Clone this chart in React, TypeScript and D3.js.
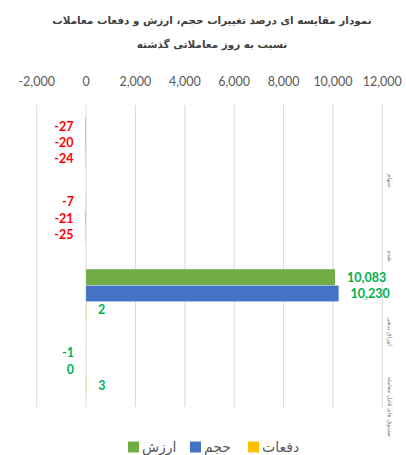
import React from "react";
import * as d3 from "d3";

const title1 = "نمودار مقایسه ای درصد تغییرات حجم، ارزش و دفعات معاملات";
const title2 = "نسبت به روز معاملاتی گذشته";
const categories = ["سهام", "تقدم", "اوراق بدهی", "صندوق های قابل معامله"];
const seriesNames = ["ارزش", "حجم", "دفعات"];
const arzesh = [-27, -7, 10083, -1];
const hajm = [-20, -21, 10230, 0];
const dafaat = [-24, -25, 2, 3];
const labelColorByCategory = ["#ff0000", "#ff0000", "#00b050", "#00b050"];
const xTicks = [-2000, 0, 2000, 4000, 6000, 8000, 10000, 12000];
const legendOrder = ["ارزش", "حجم", "دفعات"];

const seriesValues = [arzesh, hajm, dafaat];
const colors: Record<string, string> = { "ارزش": "#70ad47", "حجم": "#4472c4", "دفعات": "#ffc000" };

export default function App() {
  const W = 406, H = 455;
  const x = d3.scaleLinear().domain([-2000, 12000]).range([36.7, 382.3]);
  const yTop = 105, yBot = 407;
  const y = d3.scaleBand<string>().domain(categories).range([yTop, yBot]).paddingInner(0.35).paddingOuter(0.175);
  const yInner = d3.scaleBand<string>().domain(seriesNames).range([0, y.bandwidth()]).padding(0);
  const locale = d3.formatLocale({ decimal: ".", thousands: ",", grouping: [3], currency: ["", ""], minus: "-" });
  const fmt = locale.format(",");
  const latin = "Lato, 'Open Sans', sans-serif";
  const persian = "'DejaVu Sans', sans-serif";

  const legendItems = [
    { name: legendOrder[0], x: 128 },
    { name: legendOrder[1], x: 190 },
    { name: legendOrder[2], x: 248 },
  ];

  const bars = categories.flatMap((c, ci) =>
    seriesNames.map((s, si) => {
      const v = seriesValues[si][ci];
      const y0 = (y(c) as number) + (yInner(s) as number);
      return { c, ci, s, v, y0, bx: Math.min(x(0), x(v)), bw: Math.abs(x(v) - x(0)) };
    })
  );

  return (
    <svg width={W} height={H} style={{ position: "absolute", left: 0, top: 0, background: "#fff" }}>
      <text x={212} y={24} textAnchor="middle" fontFamily={persian} fontWeight="bold" fontSize={10.4} fill="#404040">{title1}</text>
      <text x={212} y={48} textAnchor="middle" fontFamily={persian} fontWeight="bold" fontSize={10.4} fill="#404040">{title2}</text>
      {bars.filter((b) => b.bw <= 5).map((b) => (
        <rect key={b.c + b.s} x={b.bx} y={b.y0} width={b.v > 0 ? Math.max(b.bw, 0.5) : b.bw} height={yInner.bandwidth() - 0.5} fill={colors[b.s]} />
      ))}
      {xTicks.map((t) => (
        <g key={t}>
          <line x1={x(t)} x2={x(t)} y1={yTop} y2={yBot} stroke="#d9d9d9" strokeWidth={1} />
          <text x={x(t)} y={86} textAnchor="middle" fontFamily={latin} fontSize={12.5} fill="#595959">{fmt(t)}</text>
        </g>
      ))}
      {bars.filter((b) => b.bw > 5).map((b) => (
        <rect key={b.c + b.s} x={b.bx} y={b.y0} width={b.bw} height={yInner.bandwidth() - 0.5} fill={colors[b.s]} />
      ))}
      {bars.map((b) => {
        const pos = b.v > 0;
        return (
          <text
            key={b.c + b.s + "l"}
            x={pos ? x(b.v) + 12 : x(b.v) - 12}
            y={b.y0 + yInner.bandwidth() / 2 + 4.3}
            textAnchor={pos ? "start" : "end"}
            fontFamily={latin}
            fontWeight="bold"
            fontSize={12.5}
            fill={labelColorByCategory[b.ci]}
          >
            {fmt(b.v)}
          </text>
        );
      })}
      {categories.map((c) => (
        <text
          key={c}
          transform={`translate(388,${(y(c) as number) + y.bandwidth() + y.step() * y.paddingInner() / 2}) rotate(90)`}
          textAnchor="middle"
          fontFamily={persian}
          fontSize={6}
          fill="#7f7f7f"
        >
          {c}
        </text>
      ))}
      {legendItems.map((it) => (
        <g key={it.name}>
          <rect x={it.x} y={441.5} width={11} height={11} fill={colors[it.name]} />
          <text x={it.x + 14} y={451.5} textAnchor="start" fontFamily={persian} fontSize={14} fill="#595959">{it.name}</text>
        </g>
      ))}
    </svg>
  );
}
